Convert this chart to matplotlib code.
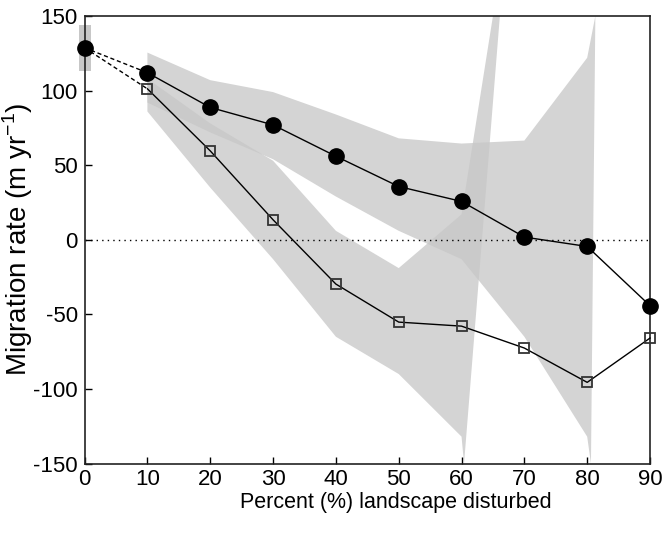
import numpy as np
import matplotlib
matplotlib.use('Agg')
import matplotlib.pyplot as plt

plt.rcParams['font.family'] = ['Liberation Sans', 'DejaVu Sans']
plt.rcParams['axes.unicode_minus'] = False

# start point (0 % disturbed) and its range
x0 = 0
y0 = 128.7
y0_low, y0_high = 113, 144

pct = [10, 20, 30, 40, 50, 60, 70, 80, 90]
rate_circle = [112, 88.7, 77, 56, 35.7, 25.7, 1.8, -4.5, -44.2]
rate_square = [101.2, 59.6, 13.4, -29.7, -55.2, -57.9, -72.6, -95.6, -65.9]

# confidence bands (edges, incl. where they run off the axes)
circ_up_x = [10, 20, 30, 40, 50, 60, 70, 80, 81.3]
circ_up_y = [125.5, 107, 99, 84, 68, 64.5, 66.5, 122, 150]
circ_lo_x = [10, 20, 30, 40, 50, 60, 70, 80, 80.6]
circ_lo_y = [92, 72, 54, 29, 6, -13, -65, -132, -150]

sq_up_x = [10, 20, 30, 40, 50, 60, 65.0, 66.1]
sq_up_y = [108, 78, 53, 6, -19, 17, 150, 150]
sq_lo_x = [10, 20, 30, 40, 50, 60, 60.4]
sq_lo_y = [86, 35, -13, -65, -90, -132, -150]

band_col = (0.78, 0.78, 0.78)

fig = plt.figure(figsize=(6.66, 5.34), dpi=100)
ax = fig.add_axes([0.127, 0.132, 0.849, 0.838])

ax.fill(circ_up_x + circ_lo_x[::-1], circ_up_y + circ_lo_y[::-1],
        color=band_col, alpha=0.77, lw=0, zorder=1)
ax.fill(sq_up_x + sq_lo_x[::-1], sq_up_y + sq_lo_y[::-1],
        color=band_col, alpha=0.77, lw=0, zorder=1)

# grey range box at 0
ax.bar(x0, y0_high - y0_low, bottom=y0_low, width=1.9,
       color=band_col, clip_on=False, zorder=1)

ax.axhline(0, color='black', ls=(0, (1, 3)), lw=1, zorder=2)

ax.plot([x0, pct[0]], [y0, rate_circle[0]], color='black', ls=(0, (3, 2)), lw=1, zorder=3)
ax.plot([x0, pct[0]], [y0, rate_square[0]], color='black', ls=(0, (3, 2)), lw=1, zorder=3)

ax.plot(pct, rate_circle, color='black', lw=1, marker='o', ms=11,
        mfc='black', mec='black', zorder=4, clip_on=False)
ax.plot(pct, rate_square, color='black', lw=1, marker='s', ms=7.5,
        mfc='none', mec='#333333', mew=1.3, zorder=4, clip_on=False)
ax.plot([x0], [y0], marker='o', ms=11, color='black', clip_on=False, zorder=5)

ax.set_xlim(0, 90)
ax.set_ylim(-150, 150)
ax.set_xticks(range(0, 91, 10))
ax.set_yticks(range(-150, 151, 50))
ax.tick_params(direction='in', length=5, width=1, labelsize=16)
ax.tick_params(axis='x', pad=4)
ax.tick_params(axis='y', pad=5)
for s in ax.spines.values():
    s.set_linewidth(1.2)
    s.set_color('#222222')

ax.set_xlabel('Percent (%) landscape disturbed', fontsize=15.5, va='top')
ax.xaxis.set_label_coords(0.55, -0.064)
ax.set_ylabel(r'Migration rate (m yr$^{\mathregular{-1}}$)', fontsize=20, va='center')
ax.yaxis.set_label_coords(-0.118, 0.5)

plt.savefig('out.png', dpi=100)
